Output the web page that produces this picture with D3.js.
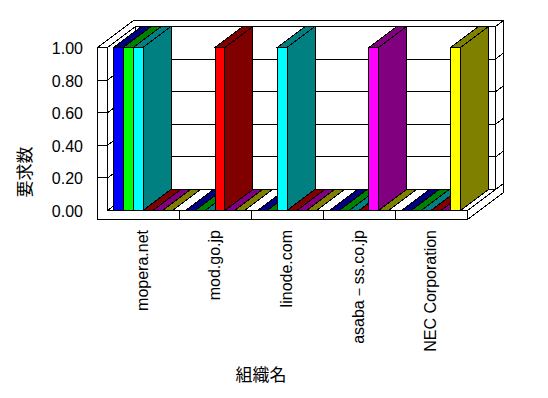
<!DOCTYPE html>
<html>
<head>
<meta charset="utf-8">
<script src="https://cdn.jsdelivr.net/npm/d3@7"></script>
<style>
  body { margin: 0; background: #fff; }
  svg { display: block; }
  text { font-family: "Liberation Sans", Arial, sans-serif; fill: #000; }
  .jp { font-family: "Noto Sans CJK JP", sans-serif; }
</style>
</head>
<body>
<svg id="chart"></svg>
<script>
// data
const categories = ["mopera.net", "mod.go.jp", "linode.com", "asaba－ss.co.jp", "NEC Corporation"];
const seriesNames = ["系列1", "系列2", "系列3", "系列4", "系列5", "系列6"];
const series1 = [1, 0, 0, 0, 0];
const series2 = [1, 0, 0, 0, 0];
const series3 = [1, 0, 1, 0, 0];
const series4 = [0, 1, 0, 0, 0];
const series5 = [0, 0, 0, 1, 0];
const series6 = [0, 0, 0, 0, 1];
const seriesValues = [series1, series2, series3, series4, series5, series6];
const frontColors = ["#0000ff", "#00ff00", "#00ffff", "#ff0000", "#ff00ff", "#ffff00"];
const shadeColors = ["#000080", "#008000", "#008080", "#800000", "#800080", "#808000"];
const yTicks = [0, 0.2, 0.4, 0.6, 0.8, 1.0];

const W = 548, H = 398;
const svg = d3.select("#chart").attr("width", W).attr("height", H);
const g = svg.append("g").attr("transform", "translate(0.5,0.5)")
  .attr("shape-rendering", "crispEdges");

// scales
const x0 = d3.scaleBand().domain(categories).range([107, 467]);
const x1 = d3.scaleBand().domain(seriesNames).range([6, 65]);
const y = d3.scaleLinear().domain([0, 1]).range([210, 47]);

// oblique depth: 1 unit = (4, -3)
const barDepth = 7, wallT = 2, floorT = 9;
const P = (px, py, dz) => [px + 4 * dz, py - 3 * dz];
const L = x0.range()[0], R = x0.range()[1], wallX = L - 10;
const y0 = y(0), yTop = y(1);

function poly(pts, fill) {
  g.append("polygon")
    .attr("points", pts.map(p => p.join(",")).join(" "))
    .attr("fill", fill).attr("stroke", "#000").attr("stroke-width", 1);
}
function line(a, b) {
  g.append("line").attr("x1", a[0]).attr("y1", a[1]).attr("x2", b[0]).attr("y2", b[1])
    .attr("stroke", "#000").attr("stroke-width", 1);
}

// floor top and right side
poly([P(L, y0, 0), P(R, y0, 0), P(R, y0, barDepth), P(L, y0, barDepth)], "#fff");
poly([P(R, y0, 0), P(R, y0 + floorT, 0), P(R, y0 + floorT, barDepth + wallT), P(R, y0, barDepth + wallT)], "#fff");

// back wall: front face, right side
poly([P(L, yTop, barDepth), P(R, yTop, barDepth), P(R, y0, barDepth), P(L, y0, barDepth)], "#fff");
poly([P(R, yTop, barDepth), P(R, yTop, barDepth + wallT), P(R, y0, barDepth + wallT), P(R, y0, barDepth)], "#fff");

// left wall inner face
poly([P(L, yTop, 0), P(L, yTop, barDepth), P(L, y0, barDepth), P(L, y0, 0)], "#fff");

// top of walls
poly([P(wallX, yTop, 0), P(L, yTop, 0), P(L, yTop, barDepth), P(R, yTop, barDepth),
      P(R, yTop, barDepth + wallT), P(wallX, yTop, barDepth + wallT)], "#fff");

// front of left wall + floor
poly([[wallX, yTop], [L, yTop], [L, y0], [R, y0], [R, y0 + floorT], [wallX, y0 + floorT]], "#fff");

// gridlines
yTicks.filter(v => v > 0 && v < 1).forEach(v => {
  const yy = y(v);
  line([wallX, yy], [L, yy]);
  line(P(L, yy, 0), P(L, yy, barDepth));
  line(P(L, yy, barDepth), P(R, yy, barDepth));
  line(P(R, yy, barDepth), P(R, yy, barDepth + wallT));
});

// category ticks on floor front
categories.slice(1).forEach(c => line([x0(c), y0], [x0(c), y0 + floorT]));

// bars
categories.forEach((c, ci) => {
  seriesNames.forEach((s, si) => {
    const v = seriesValues[si][ci];
    const bx = x0(c) + x1(s), bw = x1.bandwidth(), by = y(v);
    if (v > 0) {
      poly([[bx, by], [bx + bw, by], [bx + bw, y0], [bx, y0]], frontColors[si]);
      poly([P(bx + bw, by, 0), P(bx + bw, by, barDepth), P(bx + bw, y0, barDepth), P(bx + bw, y0, 0)], shadeColors[si]);
    }
    poly([P(bx, by, 0), P(bx + bw, by, 0), P(bx + bw, by, barDepth), P(bx, by, barDepth)], shadeColors[si]);
  });
});

// value axis labels
svg.append("g").selectAll("text").data(yTicks).join("text")
  .attr("x", 83).attr("y", d => y(d) + 7)
  .attr("text-anchor", "end").attr("font-size", 16)
  .text(d => d3.format(".2f")(d));

// category labels
svg.append("g").selectAll("text").data(categories).join("text")
  .attr("transform", d => `translate(${x0(d) + x0.bandwidth() / 2 + 5},230) rotate(-90)`)
  .attr("text-anchor", "end").attr("font-size", 16)
  .text(d => d);

// axis titles
svg.append("text").attr("class", "jp")
  .attr("x", 261).attr("y", 381).attr("text-anchor", "middle").attr("font-size", 17)
  .text("組織名");
svg.append("text").attr("class", "jp")
  .attr("transform", "translate(31,172) rotate(-90)")
  .attr("text-anchor", "middle").attr("font-size", 17)
  .text("要求数");
</script>
</body>
</html>
